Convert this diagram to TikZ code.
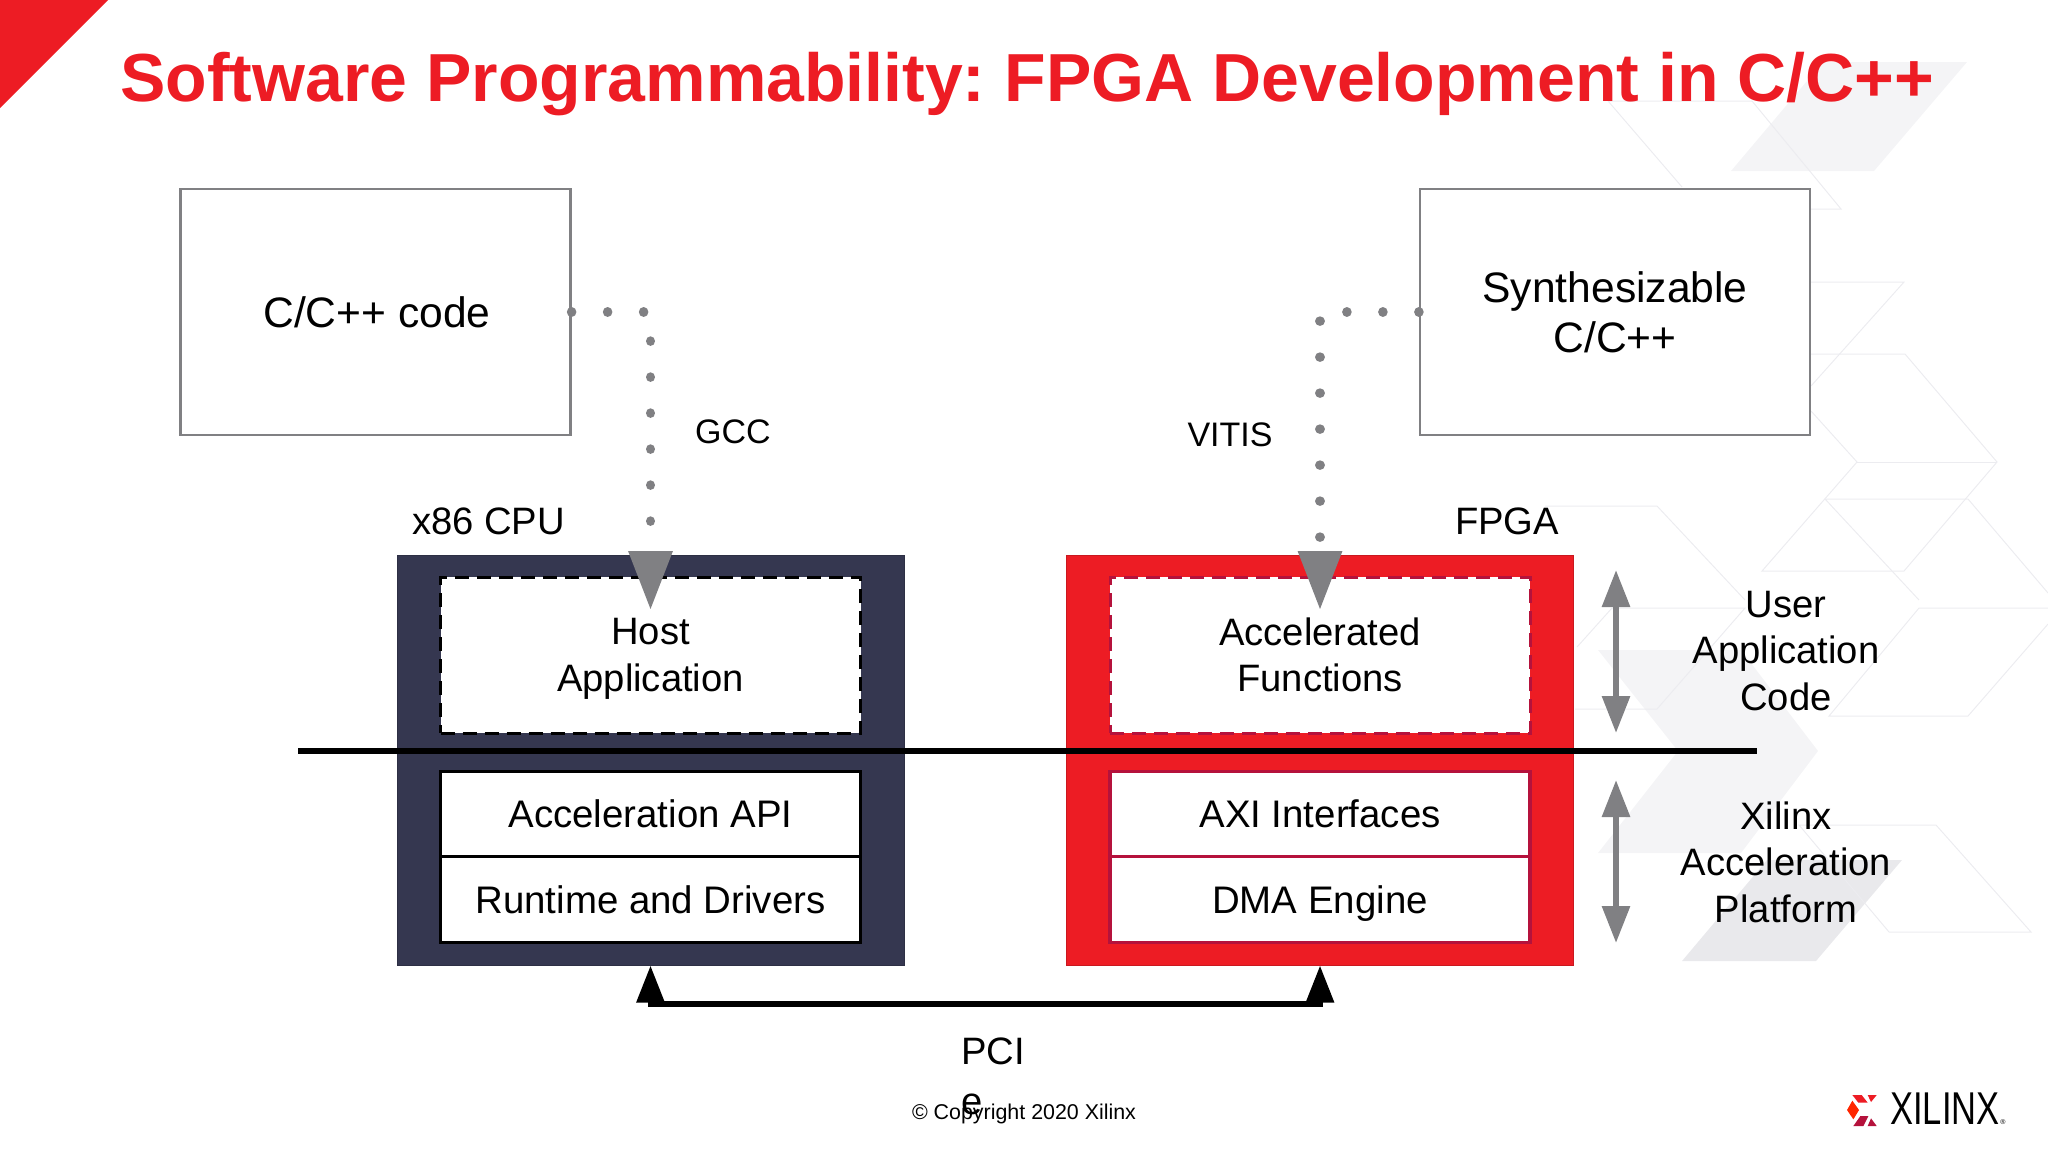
\documentclass[tikz,border=0pt]{standalone}
\usepackage{fontspec}
\setmainfont{Liberation Sans}
\usetikzlibrary{arrows.meta}
\frenchspacing
\definecolor{xred}{RGB}{237,28,36}
\definecolor{xcrimson}{RGB}{181,18,60}
\definecolor{xnavy}{RGB}{53,55,80}
\definecolor{xgrey}{RGB}{128,128,131}
\definecolor{hexline}{RGB}{236,236,240}
\definecolor{hexfill}{RGB}{244,244,246}
\definecolor{hexdark}{RGB}{233,233,236}
\tikzset{%
    label/.style={font=\fontsize{19.1}{23.2}\selectfont,align=center,text=black,inner sep=0pt},
    srcbox/.style={draw=xgrey,line width=1.1pt,minimum width=195pt,minimum height=123pt,align=center,
        font=\fontsize{21.3}{25}\selectfont},
    chip/.style={draw=#1!85!black,line width=0.5pt,fill=#1,minimum width=253.5pt,minimum height=205pt},
    userbox/.style={draw=#1,fill=white,line width=1.5pt,dash pattern=on 7pt off 4pt,minimum width=210pt,
        minimum height=78pt,align=center,font=\fontsize{19.1}{23.2}\selectfont},
    platbox/.style={draw=#1,fill=white,line width=1.6pt,minimum width=210pt,minimum height=42.75pt,
        font=\fontsize{19.2}{23.2}\selectfont},
    dots/.style={xgrey,line width=4.8pt,line cap=round,dash pattern=on 0.01pt off 17.99pt,
        -{Triangle[length=29.5pt,width=21pt]}},
    scopearrow/.style={xgrey,line width=3pt,{Triangle[length=18.5pt,width=13.5pt]}-{Triangle[length=18.5pt,width=13.5pt]}},
    pcilink/.style={black,line width=3pt,{Triangle[length=18.5pt,width=13.5pt]}-{Triangle[length=18.5pt,width=13.5pt]}},
    hexedge/.style={draw=hexline,line width=0.5pt}
}
\begin{document}
\begin{tikzpicture}[x=0.5pt,y=-0.5pt]
\useasboundingbox (0,0) rectangle (2048,1152);
% backdrop
\fill[hexfill] (1823,62) -- (1967,62) -- (1874,171) -- (1731,171) -- cycle;
\fill[hexfill] (1598,650) -- (1741,650) -- (1818,751) -- (1741,853) -- (1598,853) -- (1678,751) -- cycle;
\fill[hexdark] (1767,860) -- (1902,860) -- (1816,961) -- (1682,961) -- cycle;
\draw[hexedge] (1682,187) -- (1608,101) -- (1752,101) -- (1841,209) -- (1811,209);
\draw[hexedge] (1811,282) -- (1904,282) -- (1811,386);
\draw[hexedge] (1811,354) -- (1905,354) -- (1997,462) -- (1904,571) -- (1762,571) -- (1857,462) -- (1811,411);
\draw[hexedge] (1857,462) -- (1997,462);
\draw[hexedge] (2048,593) -- (1968,499) -- (1825,499) -- (1919,600);
\draw[hexedge] (1545,506) -- (1657,506) -- (1745,600);
\draw[hexedge] (1612,608) -- (1745,608) -- (1657,709) -- (1575,709);
\draw[hexedge] (1612,608) -- (1577,647);
\draw[hexedge] (2048,608) -- (1919,608) -- (1829,716) -- (1968,716) -- (2048,624);
\draw[hexedge] (1799,825) -- (1936,825) -- (2031,932) -- (1889,932) -- cycle;
% corner and heading
\fill[xred] (0,0) -- (108,0) -- (0,108) -- cycle;
\node[anchor=west,text=xred,inner sep=0pt,font=\fontsize{34}{40}\selectfont\bfseries] (heading) at (120,84)
    {Software Programmability: FPGA Development in C/C++};
% source boxes
\node[srcbox] (codebox) at (375.5,312) {\hspace{1.5pt}C/C++ code};
\node[srcbox] (synthbox) at (1615,312) {Synthesizable\\C/C++};
% the two devices
\node[chip=xnavy] (cpubox) at (650.5,760) {};
\node[chip=xred] (fpgabox) at (1320,760) {};
\node[userbox=black] (hostbox) at (650.5,655) {Host\\\raisebox{0pt}[\height][0pt]{Application}};
\node[userbox=xcrimson] (accelbox) at (1320,655) {Accelerated\\Functions};
\node[platbox=black] (apibox) at (650.5,814) {Acceleration API};
\node[platbox=black] (runbox) at (650.5,899.5) {Runtime and Drivers};
\node[platbox=xcrimson] (axibox) at (1320,814) {AXI Interfaces};
\node[platbox=xcrimson] (dmabox) at (1320,899.5) {\raisebox{0pt}[\height][0pt]{DMA Engine}};
\node[label] (cpulabel) at (488.5,521) {x86 CPU};
\node[label] (fpgalabel) at (1507,521) {FPGA};
% dotted flows
\coordinate (hosttip) at (650.5,610);
\coordinate (acceltip) at (1320,610);
\draw[dots] (codebox.east) -| (hosttip);
\draw[dots] (synthbox.west) -| (acceltip);
\node[label,font=\fontsize{17}{20}\selectfont] (gcc) at (733,432) {GCC};
\node[label,font=\fontsize{17}{20}\selectfont] (vitis) at (1230,435) {VITIS};
% divider and ranges
\coordinate (splitl) at (298,751);
\coordinate (splitr) at (1757,751);
\draw[black,line width=3pt] (splitl) -- (splitr);
\coordinate (usertop) at (1616,570);
\coordinate (userbot) at (1616,733);
\coordinate (plattop) at (1616,780);
\coordinate (platbot) at (1616,943);
\draw[scopearrow] (usertop) -- (userbot);
\draw[scopearrow] (plattop) -- (platbot);
\node[label] (userlabel) at (1786,651) {User\\Application\\Code};
\node[label] (platlabel) at (1786,862) {Xilinx\\Acceleration\\Platform};
% PCIe link
\draw[pcilink] (cpubox.south) |- (985,1004) -| (fpgabox.south);
\node[label,anchor=west,align=left,font=\fontsize{19.1}{25}\selectfont] (pcie) at (961,1076) {PCI\\e};
% footer
\node[label,font=\fontsize{10.7}{13}\selectfont] (copyright) at (1024,1113.5) {© Copyright 2020 Xilinx};
\node[label,font=\fontsize{23}{24}\selectfont,xscale=0.75] (xilinx) at (1945,1109) {XILINX};
\node[label,font=\fontsize{3.5}{4}\selectfont] (regmark) at (2003,1122) {®};
\begin{scope}[shift={(1835,1080)},x=0.1667pt,y=-0.1667pt]
	\fill[xred] (52,45) -- (80,45) -- (98,68) -- (70,68) -- cycle;
	\fill[red!70!orange] (52,62) -- (72,90) -- (55,118) -- (36,90) -- cycle;
	\fill[xcrimson] (55,138) -- (85,138) -- (100,108) -- (76,108) -- cycle;
	\fill[xred] (98,45) -- (125,45) -- (108,66) -- cycle;
	\fill[xcrimson] (98,138) -- (125,138) -- (108,115) -- cycle;
\end{scope}
\end{tikzpicture}
\end{document}
